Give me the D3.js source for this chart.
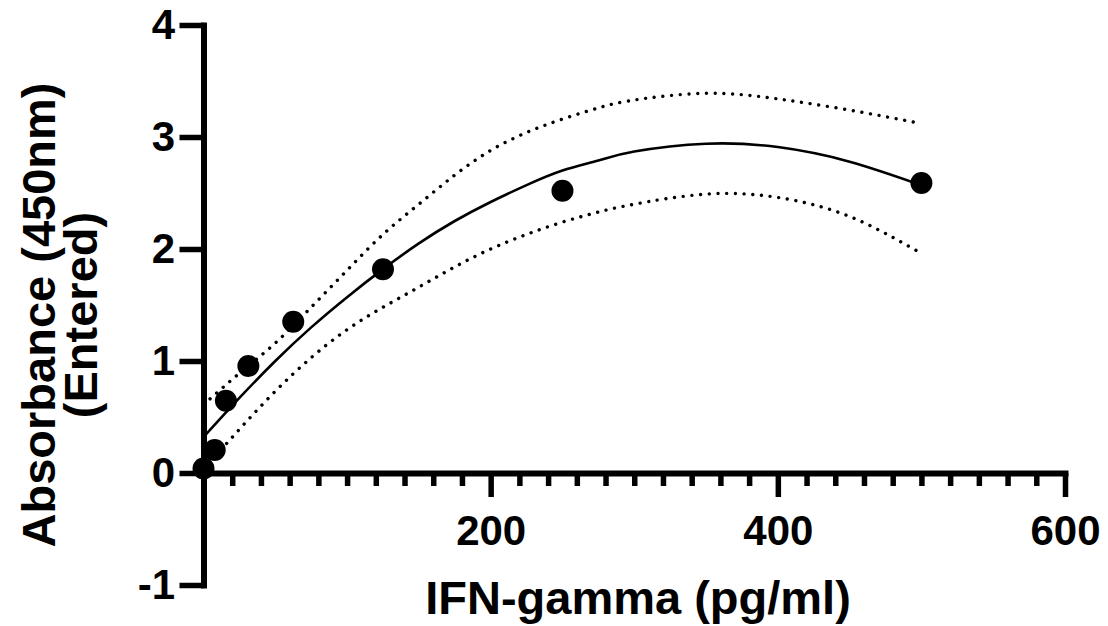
<!DOCTYPE html>
<html>
<head>
<meta charset="utf-8">
<script src="https://cdn.jsdelivr.net/npm/d3@7"></script>
<style>
  html, body { margin: 0; padding: 0; background: #fff; }
  svg { display: block; }
  text { font-family: "Liberation Sans", Arial, sans-serif; font-weight: bold; fill: #000; }
</style>
</head>
<body>
<svg id="chart" width="1108" height="626"></svg>
<script>
// ---- data ----
const concentrations = [0, 7.8125, 15.625, 31.25, 62.5, 125, 250, 500];
const absorbance     = [0.04, 0.205, 0.645, 0.955, 1.35, 1.82, 2.52, 2.59];

const fitX     = [0, 25, 50, 75, 100, 125, 150, 175, 200, 225, 250, 275, 300, 350, 400, 450, 500];
const fitY     = [0.32, 0.67, 1.00, 1.30, 1.57, 1.82, 2.05, 2.25, 2.42, 2.57, 2.70, 2.79, 2.87, 2.94, 2.91, 2.78, 2.57];
const upperY   = [0.61, 0.89, 1.16, 1.48, 1.81, 2.13, 2.40, 2.66, 2.88, 3.04, 3.16, 3.26, 3.33, 3.39, 3.34, 3.24, 3.12];
const lowerY   = [0.03, 0.39, 0.73, 1.03, 1.28, 1.48, 1.66, 1.84, 2.00, 2.13, 2.24, 2.33, 2.40, 2.49, 2.46, 2.29, 1.96];

const xMajorTicks = [200, 400, 600];
const xMinorTicks = [20, 40, 60, 80, 100, 120, 140, 160, 180, 220, 240, 260, 280, 300, 320, 340, 360, 380,
                     420, 440, 460, 480, 500, 520, 540, 560, 580];
const yTicks = [-1, 0, 1, 2, 3, 4];
const yTickLabels = ["-1", "0", "1", "2", "3", "4"];

const xTitle = "IFN-gamma (pg/ml)";
const yTitleLines = ["Absorbance (450nm)", "(Entered)"];

// ---- scales ----
const svg = d3.select("#chart");
const x = d3.scaleLinear().domain([0, 600]).range([203.5, 1065]);
const y = d3.scaleLinear().domain([-1, 4]).range([585, 25]);

// ---- curves ----
const line = d3.line().x(d => x(d[0])).y(d => y(d[1])).curve(d3.curveNatural);

[upperY, lowerY].forEach(band => {
  svg.append("path")
    .attr("d", line(d3.zip(fitX, band)))
    .attr("fill", "none").attr("stroke", "#000")
    .attr("stroke-width", 3.4).attr("stroke-linecap", "round")
    .attr("stroke-dasharray", "0.01 8.7");
});

svg.append("path")
  .attr("d", line(d3.zip(fitX, fitY)))
  .attr("fill", "none").attr("stroke", "#000")
  .attr("stroke-width", 2.6);

// ---- axes ----
const yAxis = svg.append("g")
  .attr("transform", `translate(${x(0)},0)`)
  .call(d3.axisLeft(y).tickValues(yTicks).tickSize(24).tickSizeOuter(0).tickPadding(4.5)
        .tickFormat((d, i) => yTickLabels[i]));

const xAxis = svg.append("g")
  .attr("transform", `translate(0,${y(0)})`)
  .call(d3.axisBottom(x).tickValues(xMajorTicks).tickSize(24).tickSizeOuter(0).tickPadding(18));

const xMinor = svg.append("g")
  .attr("transform", `translate(0,${y(0)})`)
  .call(d3.axisBottom(x).tickValues(xMinorTicks).tickSize(13).tickSizeOuter(0).tickFormat(""));
xMinor.select(".domain").remove();

[yAxis, xAxis, xMinor].forEach(g => {
  g.selectAll(".domain").attr("stroke", "#000").attr("stroke-width", 6).attr("stroke-linecap", "square");
  g.selectAll(".tick line").attr("stroke", "#000").attr("stroke-width", 5.5);
  g.selectAll(".tick text")
    .attr("font-size", 42)
    .style("font-family", '"Liberation Sans", Arial, sans-serif')
    .style("font-weight", "bold")
    .attr("fill", "#000");
});

// ---- points ----
svg.append("g").selectAll("circle")
  .data(d3.zip(concentrations, absorbance))
  .join("circle")
  .attr("cx", d => x(d[0]))
  .attr("cy", d => y(d[1]))
  .attr("r", 11)
  .attr("fill", "#000");

// ---- titles ----
svg.append("text")
  .attr("x", 638).attr("y", 614)
  .attr("text-anchor", "middle")
  .attr("font-size", 47)
  .text(xTitle);

const yt = svg.append("text")
  .attr("transform", "translate(55,315) rotate(-90)")
  .attr("text-anchor", "middle")
  .attr("font-size", 47);
yt.selectAll("tspan").data(yTitleLines).join("tspan")
  .attr("x", 0)
  .attr("dy", (d, i) => i === 0 ? 0 : 42)
  .text(d => d);
</script>
</body>
</html>
